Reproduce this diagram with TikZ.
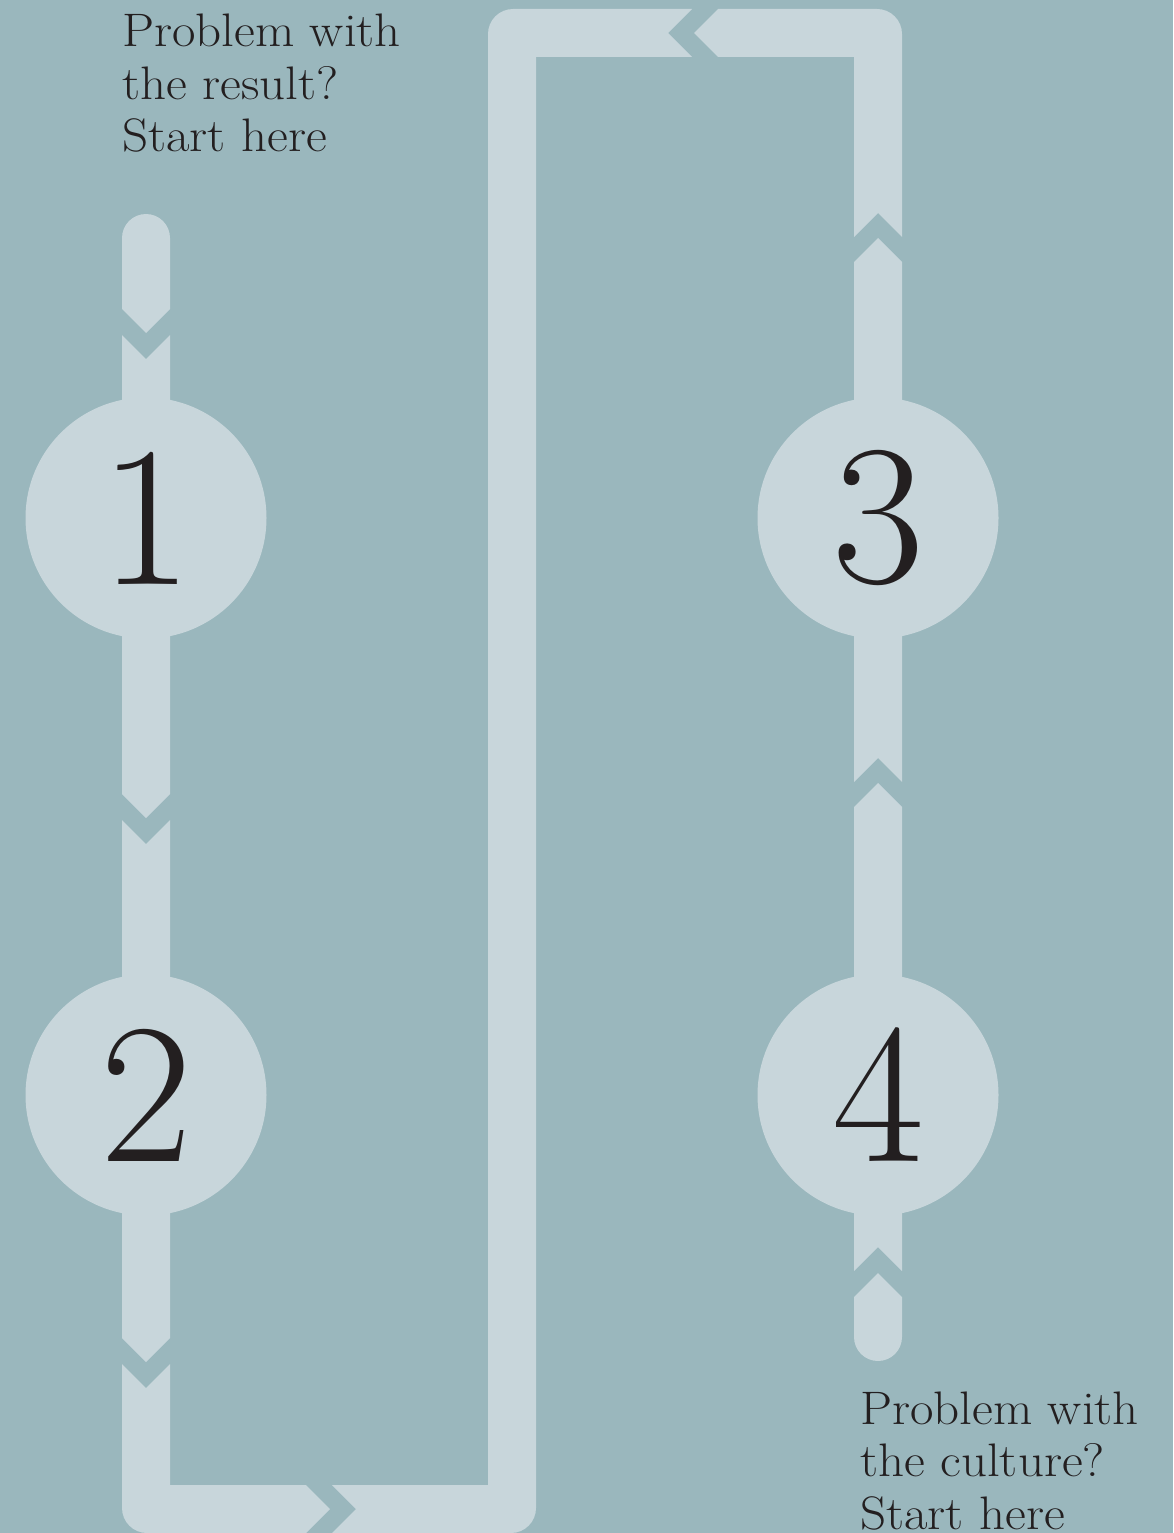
\documentclass[tikz,border=0pt]{standalone}
\usepackage{fontspec}
\usetikzlibrary{positioning}
\definecolor{loopBg}{RGB}{154,183,189}
\definecolor{loopPale}{RGB}{200,214,219}
\definecolor{loopInk}{RGB}{35,31,32}

\begin{document}
\begin{tikzpicture}[
    x=1pt, y=-1pt,
    band/.style={fill=loopPale},
    stepcircle/.style={circle, fill=loopPale, minimum size=241pt,
                inner sep=0pt, text=loopInk,
                font=\fontsize{200}{200}\selectfont},
    starttext/.style={align=left, inner sep=0pt, text=loopInk, xscale=1.085,
                font=\fontsize{47}{52.5}\selectfont}
]
  % --- Background and page size ---
  \fill[loopBg] (0,0) rectangle (1173,1533);
  \useasboundingbox (0,0) rectangle (1173,1533);

  % --- Left column: start -> 1 -> 2 ---
  \fill[band] (146,238) circle (24pt);
  \fill[band] (122,238) -- (170,238) -- (170,309) -- (146,333) -- (122,309) -- cycle;
  \fill[band] (122,335) -- (146,359) -- (170,335) -- (170,794) -- (146,818) -- (122,794) -- cycle;
  \fill[band] (122,820) -- (146,844) -- (170,820) -- (170,1338) -- (146,1362) -- (122,1338) -- cycle;

  % --- Bottom elbow, pointing right ---
  \fill[band] (122,1364) -- (146,1388) -- (170,1364) -- (170,1485) -- (306,1485)
     -- (330,1509) -- (306,1533) -- (147,1533)
     .. controls (133.2,1533) and (122,1521.8) .. (122,1508) -- cycle;

  % --- Middle column with top bar, pointing left ---
  \fill[band] (332,1485) -- (356,1509) -- (332,1533) -- (511,1533)
     .. controls (524.8,1533) and (536,1521.8) .. (536,1508)
     -- (536,57) -- (692,57) -- (668,33) -- (692,9) -- (513,9)
     .. controls (499.2,9) and (488,20.2) .. (488,34) -- (488,1485) -- cycle;
  \fill[band] (718,9) -- (694,33) -- (718,57) -- (854,57) -- (854,237)
     -- (878,213) -- (902,237) -- (902,34)
     .. controls (902,20.2) and (890.8,9) .. (877,9) -- cycle;

  % --- Right column: start -> 4 -> 3 ---
  \fill[band] (854,262) -- (878,238) -- (902,262) -- (902,782) -- (878,758) -- (854,782) -- cycle;
  \fill[band] (854,807) -- (878,783) -- (902,807) -- (902,1271) -- (878,1247) -- (854,1271) -- cycle;
  \fill[band] (854,1297) -- (878,1273) -- (902,1297) -- (902,1337) -- (854,1337) -- cycle;
  \fill[band] (878,1337) circle (24pt);

  % --- Numbered steps ---
  \node[stepcircle] (step1) at (146,518)  {1};
  \node[stepcircle] (step2) at (146,1095) {2};
  \node[stepcircle] (step3) at (878,518)  {3};
  \node[stepcircle] (step4) at (878,1095) {4};

  % --- Entry labels (base = last line) ---
  \node[starttext, anchor=base west] (startResult) at (122,152)
    {Problem with\\the result?\\Start here};
  \node[starttext, anchor=base west] (startCulture) at (860,1529)
    {Problem with\\the culture?\\Start here};
\end{tikzpicture}
\end{document}
